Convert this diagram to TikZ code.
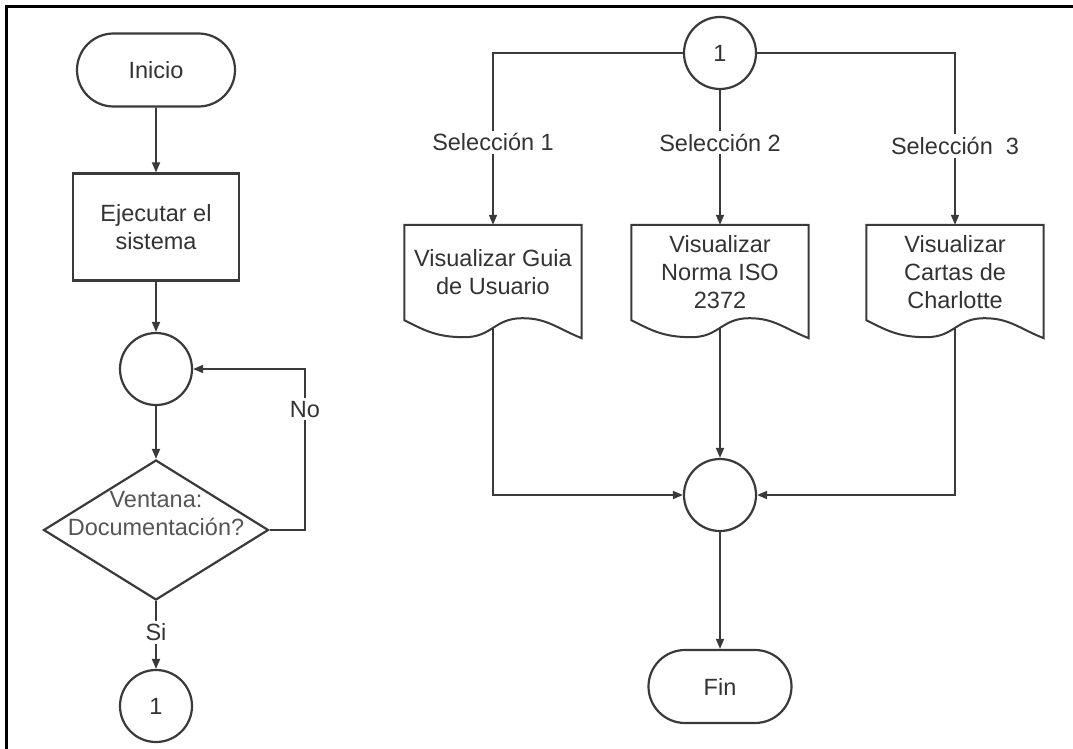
\documentclass[tikz,border=0pt]{standalone}
\usepackage{fontspec}
\setmainfont{Liberation Sans}
\usetikzlibrary{arrows.meta,shapes.misc,shapes.geometric,calc}

\definecolor{ink}{HTML}{3A3A3A}
\definecolor{txt}{HTML}{333333}
\definecolor{softtxt}{HTML}{555555}

\tikzset{
  every node/.style={font=\fontsize{23.5}{28}\selectfont, text=txt},
  shapeline/.style={draw=ink, line width=2.2pt, fill=white},
  terminal/.style={shapeline, rounded rectangle, minimum width=158pt, minimum height=73pt, inner sep=0pt},
  processbox/.style={shapeline, rectangle, minimum width=166pt, minimum height=107pt, align=center, inner sep=0pt},
  joint/.style={shapeline, circle, minimum size=72pt, inner sep=0pt},
  decision/.style={shapeline, diamond, minimum width=225pt, minimum height=140pt, inner sep=0pt},
  docbox/.style={rectangle, minimum width=177pt, minimum height=95pt, align=center, inner sep=0pt},
  docline/.style={draw=ink, line width=2pt, fill=white},
  flow/.style={draw=ink, line width=1.8pt, -{Triangle[length=10pt,width=8pt]}},
  plain/.style={draw=ink, line width=1.8pt},
  lbl/.style={fill=white, inner sep=3pt}
}

\begin{document}
\begin{tikzpicture}[x=1pt, y=-1pt]
  \useasboundingbox (0,0) rectangle (1073,749);

  % page frame
  \draw[black, line width=2.5pt] (6.5,749) -- (6.5,6.5) -- (1073,6.5);

  % left column: start, run, loop check
  \node[terminal] (ini) at (156,70) {Inicio};
  \node[processbox] (eje) at (156,227) {Ejecutar el\\sistema};
  \node[joint] (c1) at (156,369) {};
  \node[decision] (dec) at (156,530) {};
  \node[align=center, text=softtxt] (dect) at (156,514) {Ventana:\\Documentación?};
  \node[joint] (k1) at (156,706) {1};
  \coordinate (loopx) at (305,0);

  \draw[flow] (ini) -- (eje);
  \draw[flow] (eje) -- (c1);
  \draw[flow] (c1) -- (dec);
  \draw[flow] (dec.east) -- (dec.east -| loopx) -- node[pos=0.75, lbl] (no) {No} (loopx |- c1.east) -- (c1.east);
  \draw[flow] (dec.south) -- node[pos=0.46, lbl] (si) {Si} (k1.north);

  % right column: connector, three documents, merge, end
  \node[joint] (k2) at (720,53) {1};
  \node[docbox] (d1) at (493,272.5) {Visualizar Guia\\de Usuario};
  \node[docbox] (d2) at (720,272.5) {Visualizar\\Norma ISO\\2372};
  \node[docbox] (d3) at (955,272.5) {Visualizar\\Cartas de\\Charlotte};
  \node[joint] (m) at (720,495) {};
  \node[terminal, minimum width=143pt] (fin) at (720,686.5) {Fin};

  % document outlines with wavy bottom edge
  \foreach \d in {d1,d2,d3}{
    \draw[docline] (\d.north west) -- (\d.north east) -- ($(\d.south east)+(0,18)$)
      .. controls +(-25,-10) and +(25,0) .. ($(\d.south west)+(118,-2)$)
      .. controls +(-28,0) and +(28,0) .. ($(\d.south west)+(60,17)$)
      .. controls +(-28,0) and +(20,10) .. (\d.south west) -- cycle;
  }
  \node[docbox] at (d1) {Visualizar Guia\\de Usuario};
  \node[docbox] at (d2) {Visualizar\\Norma ISO\\2372};
  \node[docbox] at (d3) {Visualizar\\Cartas de\\Charlotte};

  \draw[flow] (k2.west) -| node[pos=0.76, lbl] (s1) {Selección 1} (d1.north);
  \draw[flow] (k2.south) -- node[pos=0.39, lbl] (s2) {Selección 2} (d2.north);
  \draw[flow] (k2.east) -| node[pos=0.77, lbl] (s3) {Selección\ \ 3} (d3.north);

  \draw[flow] ($(d1.south)+(0,7.5)$) |- (m.west);
  \draw[flow] ($(d2.south)+(0,7.5)$) -- (m.north);
  \draw[flow] ($(d3.south)+(0,7.5)$) |- (m.east);
  \draw[flow] (m) -- (fin);
\end{tikzpicture}
\end{document}
